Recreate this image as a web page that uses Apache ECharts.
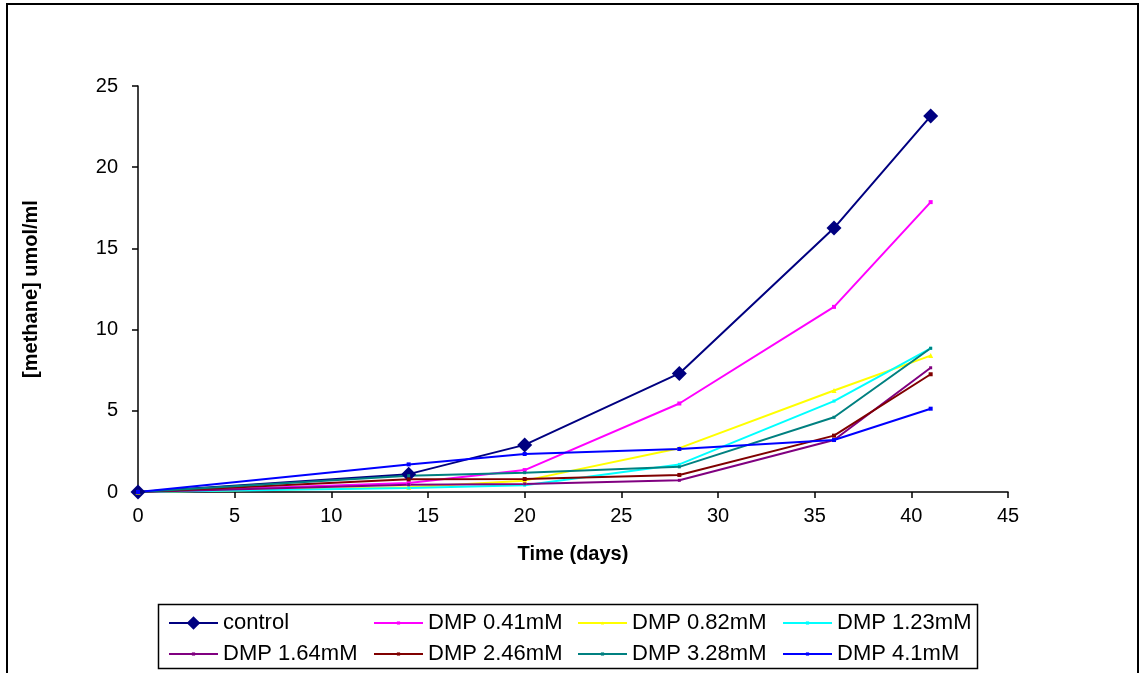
<!DOCTYPE html>
<html>
<head>
<meta charset="utf-8">
<script src="https://cdn.jsdelivr.net/npm/echarts@6/dist/echarts.min.js"></script>
<style>
html,body{margin:0;padding:0;background:#fff;}
#chart{width:1142px;height:673px;}
</style>
</head>
<body>
<div id="chart"></div>
<script>
// ---- data ----
const days = [0, 14, 20, 28, 36, 41];
const xTicks = [0, 5, 10, 15, 20, 25, 30, 35, 40, 45];
const yTicks = [0, 5, 10, 15, 20, 25];
const seriesNames = ['control', 'DMP 0.41mM', 'DMP 0.82mM', 'DMP 1.23mM',
                     'DMP 1.64mM', 'DMP 2.46mM', 'DMP 3.28mM', 'DMP 4.1mM'];
const control  = [0, 1.1, 2.9, 7.3, 16.25, 23.15];
const dmp041   = [0, 0.55, 1.35, 5.45, 11.4, 17.85];
const dmp082   = [0, 0.3, 0.7, 2.7, 6.25, 8.4];
const dmp123   = [0, 0.25, 0.42, 1.7, 5.6, 8.85];
const dmp164   = [0, 0.45, 0.5, 0.72, 3.2, 7.65];
const dmp246   = [0, 0.78, 0.8, 1.05, 3.47, 7.25];
const dmp328   = [0, 1.0, 1.19, 1.55, 4.6, 8.85];
const dmp41    = [0, 1.7, 2.34, 2.65, 3.2, 5.13];

const allValues = [control, dmp041, dmp082, dmp123, dmp164, dmp246, dmp328, dmp41];
const colors = ['#000080', '#FF00FF', '#FFFF00', '#00FFFF', '#800080', '#800000', '#008080', '#0000FF'];
const symbols = ['diamond', 'rect', 'triangle', 'rect', 'rect', 'rect', 'rect', 'rect'];
const symbolSizes = [15, 4, 5, 3, 3, 4, 3, 4];

const FONT = '"Liberation Sans", Arial, sans-serif';

const series = allValues.map((vals, i) => ({
  name: seriesNames[i],
  type: 'line',
  data: days.map((d, k) => [d, vals[k]]),
  symbol: symbols[i],
  symbolSize: symbolSizes[i],
  showSymbol: true,
  lineStyle: { color: colors[i], width: 2 },
  itemStyle: { color: colors[i] },
  emphasis: { disabled: true },
  animation: false
}));

// legend layout: 2 rows x 4 columns
const colLeft = [168, 373, 577, 782];
const rowCenter = [622, 653];
const legends = seriesNames.map((n, i) => {
  const ih = i === 0 ? 17 : 4;
  return {
    data: [n],
    left: colLeft[i % 4],
    top: rowCenter[Math.floor(i / 4)] - 10,
    itemWidth: 49,
    itemHeight: ih,
    padding: 0,
    selectedMode: false,
    textStyle: { fontSize: 22, color: '#000', fontFamily: FONT }
  };
});

const chart = echarts.init(document.getElementById('chart'), null, { renderer: 'canvas' });
chart.setOption({
  animation: false,
  backgroundColor: '#fff',
  graphic: [
    { type: 'rect', shape: { x: 7, y: 4, width: 1131, height: 700 },
      style: { fill: 'none', stroke: '#000', lineWidth: 2 }, silent: true, z: -1 },
    { type: 'rect', shape: { x: 158.5, y: 604.5, width: 819, height: 64 },
      style: { fill: 'none', stroke: '#000', lineWidth: 1.5 }, silent: true, z: -1 }
  ],
  grid: { left: 138, right: 134, top: 86, bottom: 181, containLabel: false },
  xAxis: {
    type: 'value', min: xTicks[0], max: xTicks[xTicks.length - 1], interval: 5,
    name: 'Time (days)', nameLocation: 'middle', nameGap: 52,
    nameTextStyle: { fontSize: 20, fontWeight: 'bold', color: '#000', fontFamily: FONT },
    axisLine: { onZero: false, lineStyle: { color: '#000', width: 1.5 } },
    axisTick: { show: true, length: 6, lineStyle: { color: '#000', width: 1.5 } },
    axisLabel: { fontSize: 20, color: '#000', margin: 14, fontFamily: FONT },
    splitLine: { show: false }
  },
  yAxis: {
    type: 'value', min: yTicks[0], max: yTicks[yTicks.length - 1], interval: 5,
    name: '[methane] umol/ml', nameLocation: 'middle', nameGap: 97, nameRotate: 90,
    nameTextStyle: { fontSize: 20, fontWeight: 'bold', color: '#000', fontFamily: FONT },
    axisLine: { show: true, lineStyle: { color: '#000', width: 1.5 } },
    axisTick: { show: true, length: 6, lineStyle: { color: '#000', width: 1.5 } },
    axisLabel: { fontSize: 20, color: '#000', margin: 20, fontFamily: FONT },
    splitLine: { show: false }
  },
  legend: legends,
  series: series
});
</script>
</body>
</html>
